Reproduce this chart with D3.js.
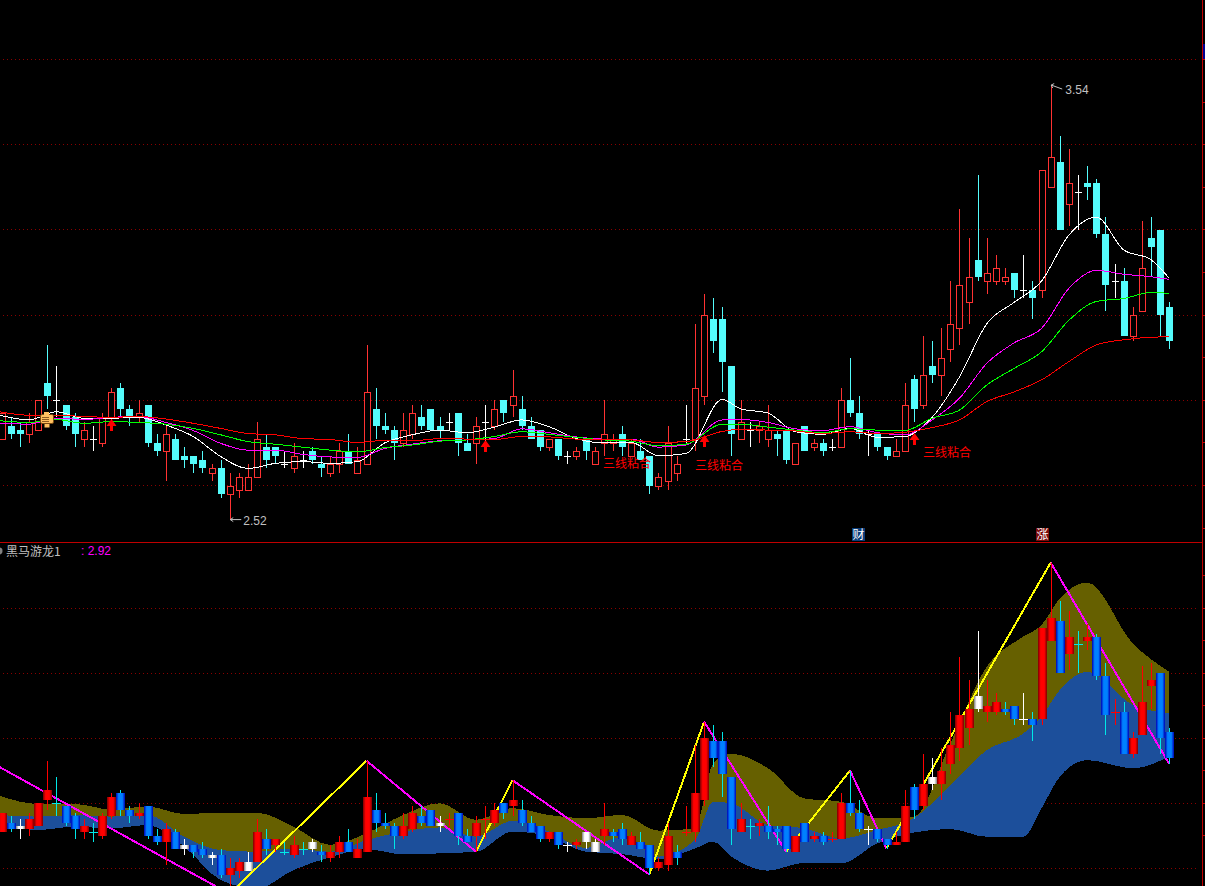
<!DOCTYPE html>
<html><head><meta charset="utf-8">
<script src="https://cdn.jsdelivr.net/npm/d3@7/dist/d3.min.js"></script>
<style>html,body{margin:0;padding:0;background:#000;overflow:hidden}svg{display:block}</style>
</head><body><svg id="c" width="1205" height="886"></svg>
<script>
// candle values (price)
const opens=[2.71,2.74,2.73,2.72,2.73,2.84,2.80,2.79,2.76,2.71,2.71,2.70,2.76,2.83,2.78,2.76,2.79,2.70,2.68,2.71,2.67,2.67,2.66,2.63,2.64,2.58,2.59,2.59,2.62,2.69,2.69,2.65,2.64,2.66,2.68,2.65,2.63,2.65,2.68,2.63,2.65,2.78,2.74,2.73,2.70,2.72,2.76,2.78,2.74,2.75,2.77,2.70,2.70,2.75,2.74,2.80,2.79,2.78,2.74,2.73,2.69,2.71,2.67,2.67,2.71,2.65,2.70,2.70,2.72,2.67,2.68,2.67,2.60,2.61,2.63,2.71,2.71,2.81,2.99,2.99,2.88,2.71,2.73,2.73,2.71,2.72,2.73,2.65,2.74,2.69,2.70,2.69,2.69,2.80,2.77,2.72,2.72,2.69,2.67,2.68,2.85,2.79,2.88,2.86,2.92,2.97,3.03,3.13,3.08,3.08,3.08,3.10,3.06,3.06,3.06,3.30,3.36,3.26,3.29,3.31,3.31,3.19,3.08,3.08,2.95,3.01,3.18,3.20,3.02];
const highs=[2.77,2.76,2.75,2.77,2.80,2.93,2.88,2.79,2.77,2.75,2.74,2.77,2.83,2.84,2.79,2.80,2.79,2.72,2.74,2.72,2.69,2.67,2.68,2.65,2.66,2.63,2.63,2.65,2.75,2.72,2.69,2.68,2.70,2.68,2.69,2.67,2.67,2.70,2.72,2.69,2.93,2.83,2.77,2.74,2.77,2.79,2.79,2.78,2.76,2.77,2.77,2.72,2.76,2.79,2.80,2.80,2.87,2.81,2.76,2.73,2.71,2.71,2.68,2.69,2.71,2.69,2.80,2.72,2.74,2.71,2.71,2.67,2.63,2.74,2.67,2.79,2.98,3.05,3.04,3.02,2.88,2.80,2.75,2.75,2.79,2.73,2.73,2.70,2.74,2.71,2.71,2.71,2.83,2.90,2.81,2.73,2.72,2.69,2.71,2.84,2.86,2.95,2.94,2.97,3.08,3.25,3.18,3.33,3.18,3.14,3.11,3.10,3.14,3.08,3.34,3.54,3.42,3.39,3.33,3.35,3.32,3.23,3.12,3.11,3.02,3.22,3.23,3.20,3.03];
const lows=[2.71,2.71,2.69,2.70,2.73,2.78,2.76,2.73,2.69,2.69,2.68,2.69,2.75,2.76,2.74,2.75,2.69,2.67,2.61,2.66,2.64,2.63,2.63,2.61,2.57,2.52,2.57,2.59,2.62,2.64,2.65,2.64,2.63,2.64,2.65,2.62,2.62,2.63,2.65,2.63,2.65,2.71,2.72,2.66,2.69,2.71,2.73,2.73,2.71,2.73,2.67,2.68,2.65,2.69,2.73,2.75,2.76,2.73,2.71,2.68,2.68,2.66,2.65,2.66,2.66,2.65,2.67,2.68,2.67,2.67,2.66,2.58,2.59,2.59,2.61,2.70,2.68,2.79,2.91,2.82,2.67,2.71,2.69,2.70,2.69,2.67,2.65,2.65,2.68,2.68,2.67,2.68,2.69,2.76,2.71,2.67,2.68,2.66,2.67,2.68,2.75,2.78,2.84,2.81,2.89,2.93,2.98,3.08,3.05,3.07,3.07,3.04,3.04,2.99,3.04,3.30,3.20,3.21,3.20,3.27,3.18,3.01,3.04,2.95,2.94,3.01,3.09,2.95,2.92];
const closes=[2.77,2.72,2.72,2.75,2.80,2.81,2.80,2.74,2.72,2.73,2.71,2.76,2.82,2.78,2.76,2.77,2.70,2.68,2.72,2.66,2.66,2.65,2.64,2.64,2.58,2.60,2.62,2.62,2.71,2.66,2.67,2.65,2.67,2.66,2.66,2.64,2.65,2.68,2.65,2.66,2.82,2.74,2.73,2.70,2.73,2.77,2.74,2.73,2.73,2.75,2.70,2.68,2.74,2.75,2.78,2.77,2.81,2.74,2.71,2.69,2.71,2.67,2.67,2.68,2.68,2.68,2.72,2.71,2.69,2.70,2.66,2.60,2.62,2.70,2.65,2.71,2.83,3.00,2.94,2.89,2.72,2.75,2.73,2.74,2.73,2.71,2.66,2.70,2.68,2.70,2.68,2.69,2.80,2.77,2.72,2.72,2.69,2.67,2.68,2.79,2.78,2.86,2.86,2.90,2.98,3.07,3.09,3.09,3.10,3.11,3.09,3.06,3.06,3.04,3.34,3.37,3.20,3.31,3.29,3.30,3.19,3.07,3.08,2.95,3.00,3.11,3.16,3.00,2.94];

// moving averages, read at these bars
const maBars=[-0.2,3,6,9,12,15,18,21,24,27,30,33,36,39,42,45,48,51,54,57,60,63,66,69,72,75,79,81,84,87,90,93,96,99,102,105,108,111,114,117,120,123,126,128];
const maWhite=[2.765,2.754,2.773,2.758,2.758,2.76,2.742,2.715,2.668,2.64,2.652,2.656,2.652,2.656,2.70,2.719,2.73,2.724,2.737,2.754,2.738,2.71,2.70,2.701,2.67,2.675,2.802,2.78,2.77,2.726,2.72,2.734,2.713,2.715,2.76,2.855,2.98,3.03,3.08,3.188,3.23,3.153,3.13,3.086];
const maMagenta=[2.746,2.744,2.758,2.755,2.76,2.762,2.748,2.729,2.699,2.683,2.683,2.673,2.667,2.666,2.687,2.697,2.705,2.707,2.71,2.733,2.724,2.714,2.709,2.709,2.69,2.695,2.754,2.755,2.748,2.733,2.729,2.738,2.724,2.719,2.754,2.805,2.887,2.935,2.969,3.063,3.105,3.096,3.09,3.084];
const maGreen=[2.752,2.748,2.755,2.746,2.75,2.748,2.744,2.734,2.719,2.703,2.697,2.69,2.683,2.679,2.689,2.695,2.704,2.707,2.715,2.726,2.72,2.713,2.707,2.704,2.693,2.697,2.744,2.744,2.737,2.73,2.724,2.733,2.73,2.729,2.758,2.777,2.836,2.875,2.914,2.988,3.032,3.039,3.053,3.051];
const maRed=[2.773,2.765,2.765,2.762,2.76,2.762,2.756,2.746,2.734,2.722,2.719,2.71,2.708,2.701,2.706,2.705,2.71,2.709,2.708,2.715,2.714,2.709,2.708,2.707,2.701,2.703,2.727,2.732,2.73,2.728,2.722,2.726,2.722,2.725,2.736,2.754,2.797,2.82,2.848,2.891,2.93,2.942,2.948,2.949];

// cloud bands in the lower pane, read at these bars
const bandBars=[-0.2,4,8,12,16,20,24,28,32,36,40,44,48,52,56,60,64,68,72,76,78,80,84,88,92,96,100,104,108,112,114,116,119,124,128];
const bandTop=[2.822,2.797,2.797,2.78,2.789,2.766,2.77,2.77,2.727,2.671,2.707,2.763,2.799,2.748,2.784,2.763,2.753,2.763,2.715,2.722,2.922,2.951,2.907,2.814,2.804,2.753,2.758,2.984,3.22,3.312,3.348,3.43,3.478,3.291,3.204];
const bandMid=[2.763,2.758,2.763,2.758,2.763,2.696,2.655,2.65,2.66,2.65,2.686,2.712,2.725,2.696,2.746,2.712,2.661,2.696,2.635,2.686,2.804,2.799,2.732,2.722,2.691,2.717,2.753,2.855,2.963,3.014,3.066,3.148,3.204,3.102,3.076];
const bandBot=[2.737,2.717,2.727,2.722,2.732,2.666,2.563,2.537,2.594,2.633,2.658,2.642,2.645,2.65,2.712,2.698,2.65,2.643,2.627,2.66,2.681,2.635,2.592,2.616,2.614,2.676,2.709,2.72,2.696,2.696,2.784,2.881,2.932,2.907,2.943];

// zigzag turning points
const zigBars=[-0.2,25,40,52,56,71,77,86,93,97,115,128];
const zigPrices=[2.91,2.52,2.93,2.65,2.87,2.58,3.05,2.65,2.90,2.66,3.54,2.92];

// signals
const arrowBars=[12,53,77,100];
const arrowPrices=[2.756,2.707,2.719,2.723];
const gridUpper=[2.6,2.8,3.0,3.2,3.4,3.6];
const gridLower=[2.6,2.8,3.0,3.2,3.4];
const noteText="三线粘合";
const hiLabel="3.54", loLabel="2.52", paneTitle="黑马游龙1", paneValue=": 2.92";

const W=1205,H=886;
const svg=d3.select("#c");
svg.append("rect").attr("width",W).attr("height",H).attr("fill","#000");
const x=d3.scaleLinear().domain([0,128]).range([1.7,1169.3]);
const yU=d3.scaleLinear().domain([2.6,3.6]).range([485.5,59.5]);
const yL=d3.scaleLinear().domain([2.6,3.4]).range([868,608]);
const n=closes.length;
const defs=svg.append("defs");
function grad(id,edge,mid){
  const g=defs.append("linearGradient").attr("id",id).attr("x1",0).attr("x2",1).attr("y1",0).attr("y2",0);
  [[0,edge],[.3,mid],[.7,mid],[1,edge]].forEach(s=>g.append("stop").attr("offset",s[0]).attr("stop-color",s[1]));
}
grad("gR","#7a0000","#ff0000");grad("gB","#0000b4","#0080ff");grad("gW","#808080","#ffffff");
defs.append("clipPath").attr("id","lowerClip").append("rect").attr("x",0).attr("y",543).attr("width",1202).attr("height",343);
defs.append("clipPath").attr("id","upperClip").append("rect").attr("x",0).attr("y",0).attr("width",1202).attr("height",542);

function grid(vals,y){
  svg.append("g").selectAll("line").data(vals).join("line")
   .attr("x1",3).attr("x2",1199).attr("y1",d=>Math.floor(y(d))+.5).attr("y2",d=>Math.floor(y(d))+.5)
   .attr("stroke","#8a0000").attr("stroke-width",1).attr("stroke-dasharray","1 3");
}
grid(gridUpper,yU);grid(gridLower,yL);

// ---- lower pane
const L=svg.append("g").attr("clip-path","url(#lowerClip)");
const bx=i=>x(bandBars[i]);
const topArea=d3.area().x((d,i)=>bx(i)).y0((d,i)=>yL(bandMid[i])).y1(d=>yL(d)).curve(d3.curveMonotoneX);
const botArea=d3.area().x((d,i)=>bx(i)).y0(d=>yL(d)).y1((d,i)=>yL(bandMid[i])).curve(d3.curveMonotoneX);
L.append("path").attr("d",topArea(bandTop)).attr("fill","#666000").attr("shape-rendering","crispEdges");
L.append("path").attr("d",botArea(bandBot)).attr("fill","#1c4f9b").attr("shape-rendering","crispEdges");
for(let i=0;i<zigBars.length-1;i++){
  L.append("line").attr("x1",x(zigBars[i])).attr("y1",yL(zigPrices[i])).attr("x2",x(zigBars[i+1])).attr("y2",yL(zigPrices[i+1]))
   .attr("stroke",zigPrices[i+1]>zigPrices[i]?"#ffff00":"#ff00ff").attr("stroke-width",2).attr("shape-rendering","crispEdges");
}
const px=i=>Math.round(x(i));
d3.range(n).forEach(i=>{
  const prev=i?closes[i-1]:closes[i]-.01;
  const t=closes[i]>prev?"R":closes[i]<prev?"B":"W";
  const wick={R:"#ff0000",B:"#00e8e8",W:"#ffffff"}[t];
  L.append("line").attr("x1",px(i)+.5).attr("x2",px(i)+.5).attr("y1",Math.round(yL(highs[i]))).attr("y2",Math.round(yL(lows[i]))).attr("stroke",wick);
  const a=Math.round(yL(Math.max(opens[i],closes[i]))),b=Math.round(yL(Math.min(opens[i],closes[i])));
  if(a===b){
    L.append("line").attr("x1",px(i)-4).attr("x2",px(i)+5).attr("y1",a+.5).attr("y2",a+.5).attr("stroke",wick);
  }else{
    L.append("rect").attr("x",px(i)-4).attr("width",9).attr("y",a).attr("height",b-a)
     .attr("fill","url(#g"+t+")").attr("shape-rendering","crispEdges");
  }
});

// ---- upper pane
const U=svg.append("g").attr("clip-path","url(#upperClip)");
d3.range(n).forEach(i=>{
  const up=closes[i]>opens[i],flat=closes[i]===opens[i];
  const col=flat?"#ffffff":up?"#ff3232":"#54fcfc";
  const a=Math.round(yU(Math.max(opens[i],closes[i]))),b=Math.round(yU(Math.min(opens[i],closes[i])));
  U.append("line").attr("x1",px(i)+.5).attr("x2",px(i)+.5).attr("y1",Math.round(yU(highs[i]))).attr("y2",Math.round(yU(lows[i]))).attr("stroke",col);
  if(flat){
    U.append("line").attr("x1",px(i)-3).attr("x2",px(i)+4).attr("y1",a+.5).attr("y2",a+.5).attr("stroke",col);
  }else{
    U.append("rect").attr("x",px(i)-3+(up?.5:0)).attr("width",up?6:7).attr("y",a+(up?.5:0)).attr("height",b-a)
     .attr("fill",up?"#000":col).attr("stroke",up?col:"none").attr("shape-rendering","crispEdges");
  }
});
const maLine=d3.line().x((d,i)=>x(maBars[i])).y(d=>yU(d)).curve(d3.curveMonotoneX);
[[maWhite,"#ffffff"],[maMagenta,"#ff00ff"],[maGreen,"#00ff00"],[maRed,"#ff0000"]].forEach(s=>{
  U.append("path").attr("d",maLine(s[0])).attr("fill","none").attr("stroke",s[1]).attr("stroke-width",1).attr("shape-rendering","crispEdges");
});
// signal arrows
arrowBars.forEach((b,i)=>{
  const cx=px(b)+.5,ty=Math.round(yU(arrowPrices[i]));
  U.append("path").attr("d",`M${cx},${ty}L${cx+5},${ty+7}L${cx+1.5},${ty+7}L${cx+1.5},${ty+12}L${cx-1.5},${ty+12}L${cx-1.5},${ty+7}L${cx-5},${ty+7}Z`).attr("fill","#ff0000");
});
const cjk='"Noto Sans CJK SC","Liberation Sans",sans-serif';
[[603,468],[695,470],[923,457]].forEach(p=>{
  U.append("text").attr("x",p[0]).attr("y",p[1]).attr("fill","#ff0000").attr("font-family",cjk).attr("font-size",12).text(noteText);
});
// hand marker
const hand=U.append("g");
hand.append("rect").attr("x",44).attr("y",423).attr("width",6).attr("height",5).attr("fill","#ffc060").attr("stroke","#000");
hand.append("rect").attr("x",40.5).attr("y",414.5).attr("width",13).attr("height",9).attr("rx",1.5).attr("fill","#ffc060").attr("stroke","#7a4a10");
hand.append("rect").attr("x",44).attr("y",412).attr("width",5).attr("height",3).attr("fill","#ffc060");
[417,419,421].forEach(v=>hand.append("line").attr("x1",42).attr("x2",49).attr("y1",v+.5).attr("y2",v+.5).attr("stroke","#8a5a20"));

// high / low labels
const gray="#c0c0c0";
const hx=x(115)+.5,hy=yU(3.54),lx=x(25)+.5,ly=yU(2.52);
U.append("path").attr("d",`M${hx},${hy}L${hx+11},${hy+4}M${hx},${hy}l3,-1.5M${hx},${hy}l1.5,3`).attr("fill","none").attr("stroke",gray);
U.append("text").attr("x",hx+14).attr("y",hy+9).attr("fill",gray).attr("font-family","Liberation Sans,Arial,sans-serif").attr("font-size",12).text(hiLabel);
U.append("path").attr("d",`M${lx},${ly}h11M${lx},${ly}l3,-2M${lx},${ly}l3,2`).attr("fill","none").attr("stroke",gray);
U.append("text").attr("x",lx+13).attr("y",ly+5.5).attr("fill",gray).attr("font-family","Liberation Sans,Arial,sans-serif").attr("font-size",12).text(loLabel);

// badges
[["财",851,"#0a3c78"],["涨",1035,"#7a0a0a"]].forEach(b=>{
  svg.append("rect").attr("x",b[1]+1).attr("y",528).attr("width",13).attr("height",13).attr("fill",b[2]);
  svg.append("text").attr("x",b[1]+7.5).attr("y",539).attr("text-anchor","middle").attr("fill","#fff").attr("font-family",cjk).attr("font-size",12).text(b[0]);
});

// frame
svg.append("line").attr("x1",0).attr("x2",1203).attr("y1",542.5).attr("y2",542.5).attr("stroke","#c00000");
svg.append("line").attr("x1",1202.5).attr("x2",1202.5).attr("y1",0).attr("y2",H).attr("stroke","#c00000");
svg.append("rect").attr("x",1203).attr("y",44).attr("width",2).attr("height",15).attr("fill","#000090");
const tickYs=d3.range(0,11).map(k=>102+k*42.6);
svg.append("g").selectAll("line").data(tickYs.concat([59.5])).join("line").attr("x1",1203).attr("x2",1205)
  .attr("y1",d=>Math.floor(d)+.5).attr("y2",d=>Math.floor(d)+.5).attr("stroke","#c00000");
svg.append("g").selectAll("line").data(d3.range(0,9).map(k=>575.5+k*32.5)).join("line").attr("x1",1203).attr("x2",1205)
  .attr("y1",d=>Math.floor(d)+.5).attr("y2",d=>Math.floor(d)+.5).attr("stroke","#c00000");

// title
svg.append("circle").attr("cx",-1).attr("cy",551).attr("r",3.5).attr("fill","#808080");
svg.append("text").attr("x",6).attr("y",556).attr("fill",gray).attr("font-family",cjk).attr("font-size",12).text(paneTitle);
svg.append("text").attr("x",81).attr("y",555).attr("fill","#ff00ff").attr("font-family","Liberation Sans,Arial,sans-serif").attr("font-size",12).text(paneValue);
</script></body></html>
